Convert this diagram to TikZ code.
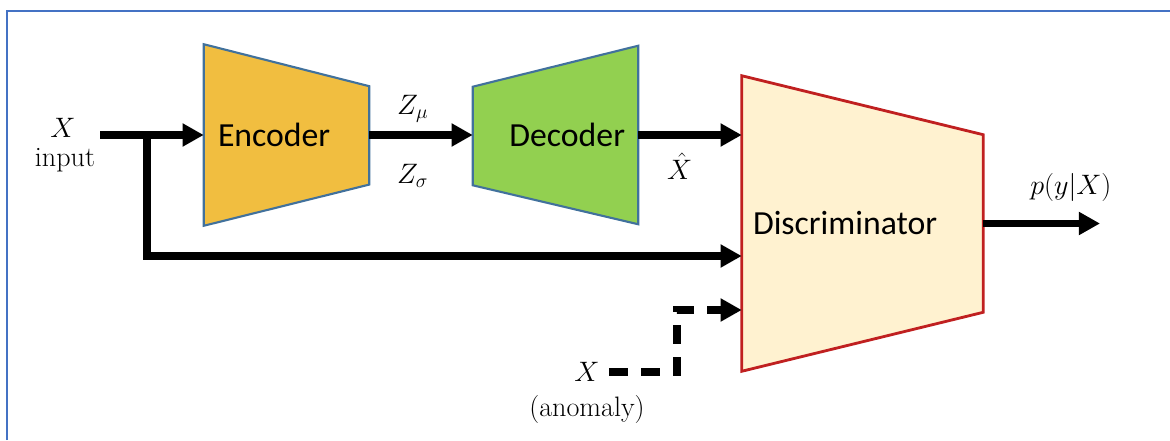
\RequirePackage{fix-cm}
\documentclass[tikz,border=0pt]{standalone}
\usepackage{fontspec}
\newfontfamily\blockfont{Carlito}
\usetikzlibrary{arrows.meta, positioning, calc, backgrounds}
\definecolor{FrameBlue}{RGB}{68,114,196}
\definecolor{EdgeBlue}{RGB}{65,113,156}
\definecolor{EncOrange}{RGB}{241,190,64}
\definecolor{DecGreen}{RGB}{146,208,80}
\definecolor{DiscCream}{RGB}{255,242,208}
\definecolor{DiscRed}{RGB}{192,32,32}

\begin{document}
\begin{tikzpicture}[
        block/.style={rectangle, inner ysep=0pt, font=\blockfont\fontsize{24}{28}\selectfont},
        txt/.style={inner sep=1pt, font=\fontsize{20}{24}\selectfont},
        arrow/.style={line width=5pt, -{Triangle[length=5.3mm, width=5.5mm]}},
        dasharrow/.style={arrow, dash pattern=on 4.8mm off 3.2mm},
        trap/.style={line width=1.5pt}
    ]
        \useasboundingbox (0,0) rectangle (29.25,-11);
        \draw [FrameBlue, line width=2pt] (0.175,-11) -- (0.175,-0.275) -- (29.25,-0.275);

        % the three blocks
        \node (enc) [block, minimum width=4.125cm, minimum height=4.525cm, inner xsep=0.35cm, text width=3.425cm, align=left] at (7.1625,-3.375) {Encoder};
        \node (dec) [block, minimum width=4.125cm, minimum height=4.45cm, inner xsep=0.325cm, text width=3.475cm, align=right] at (13.8875,-3.375) {Decoder};
        \node (disc) [block, minimum width=6.025cm, minimum height=7.375cm, inner xsep=0.275cm, text width=5.475cm, align=left] at (21.5625,-5.5875) {Discriminator};

        \begin{scope}[on background layer]
            \draw [trap, draw=EdgeBlue, fill=EncOrange] (enc.north west) -- ([yshift=-1.05cm]enc.north east) -- ([yshift=1.03cm]enc.south east) -- (enc.south west) -- cycle;
            \draw [trap, draw=EdgeBlue, fill=DecGreen] ([yshift=-1.025cm]dec.north west) -- (dec.north east) -- (dec.south east) -- ([yshift=0.975cm]dec.south west) -- cycle;
            \draw [trap, draw=DiscRed, fill=DiscCream, line width=2pt] (disc.north west) -- ([yshift=-1.475cm]disc.north east) -- ([yshift=1.475cm]disc.south east) -- (disc.south west) -- cycle;
        \end{scope}

        % inputs
        \node (xin) [txt] at (1.575,-3.2) {$X$};
        \node (inlbl) [txt] at (1.625,-4.0) {input};
        \node (xan) [txt] at (14.675,-9.3) {$X$};
        \node (anlbl) [txt] at (14.675,-10.225) {(anomaly)};

        \coordinate (in) at (2.5,-3.375);
        \coordinate (split) at (3.675,-3.375);
        \coordinate (skip) at (3.675,-6.4);
        \coordinate (bend) at (16.925,-7.75);
        \coordinate (out) at (27.5,-5.5875);

        \draw [arrow] (in) -- (enc.west);
        \draw [arrow] (split) -- (skip) -- (skip -| disc.west);
        \draw [arrow] (enc.east) -- node[txt, pos=0.42, above=0.2cm] {$Z_\mu$} node[txt, pos=0.42, below=0.6cm] {$Z_\sigma$} (dec.west);
        \draw [arrow] (dec.east) -- node[txt, pos=0.4, below=0.33cm] {$\hat{X}$} (disc.west |- dec.east);
        \draw [dasharrow, shorten <=0.2cm] (xan.east) -| (bend) -- (bend -| disc.west);
        \draw [arrow] (disc.east) -- node[txt, pos=0.75, above=0.42cm] {$p(y|X)$} (out);
    \end{tikzpicture}
\end{document}
